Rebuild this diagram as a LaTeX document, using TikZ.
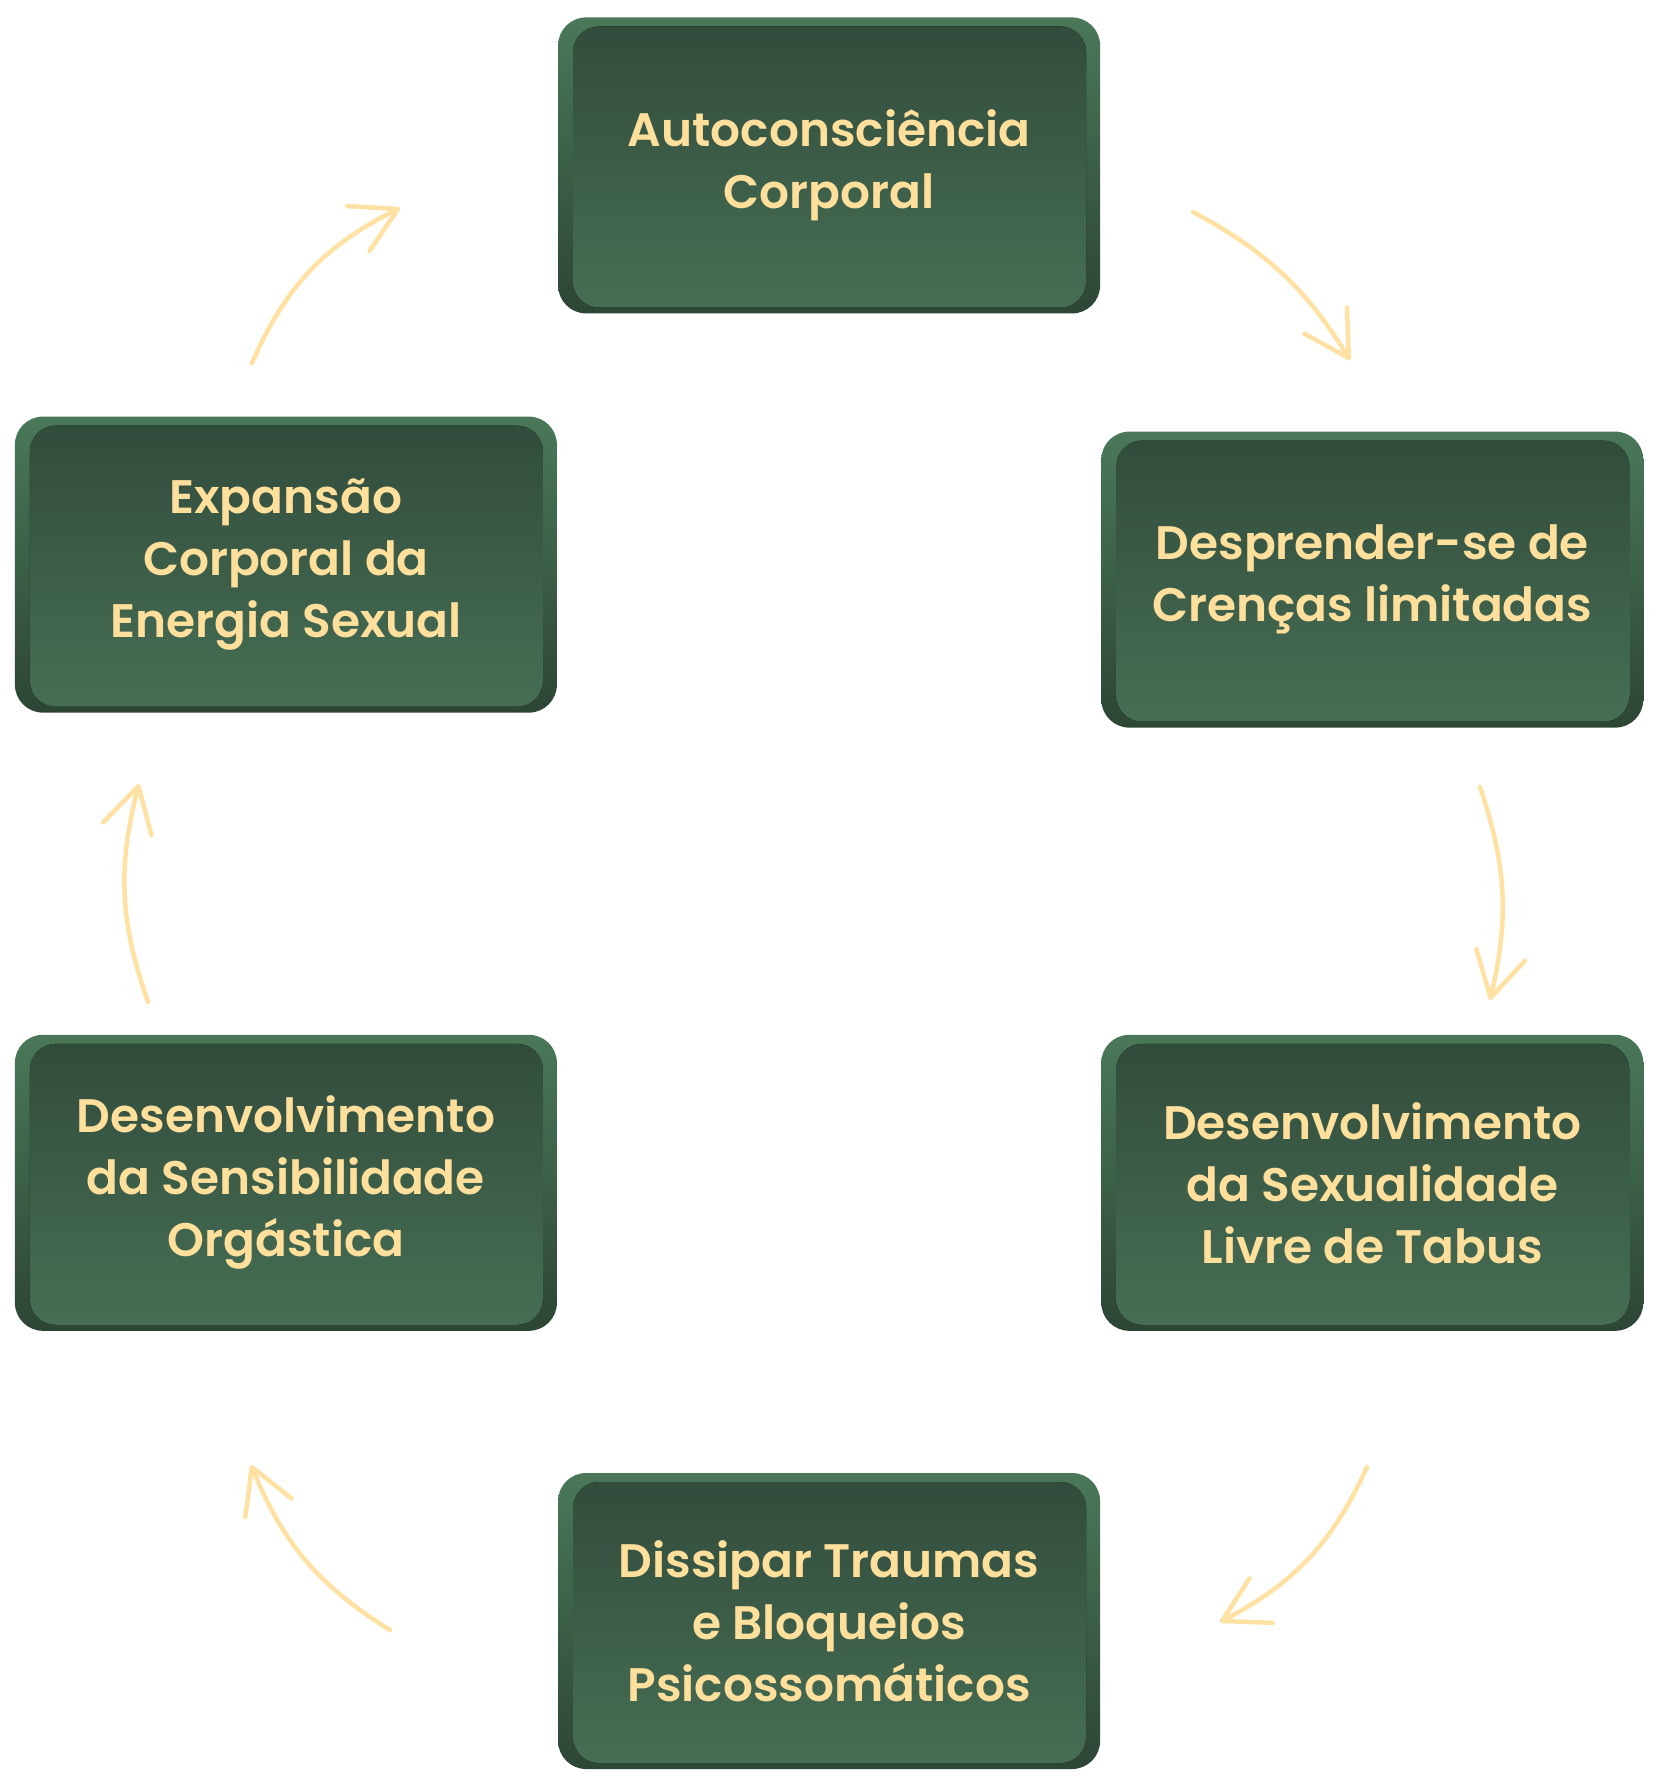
\documentclass[tikz,border=0pt]{standalone}
\usepackage{fontspec}
\usetikzlibrary{matrix,arrows.meta}
\newfontfamily\boxfont{Poppins}[UprightFont=* SemiBold]
\definecolor{outertop}{HTML}{4A7859}
\definecolor{outerbot}{HTML}{2D4535}
\definecolor{innertop}{HTML}{314B3B}
\definecolor{innerbot}{HTML}{476F55}
\definecolor{cream}{HTML}{FFDF9C}
\definecolor{sketch}{HTML}{FFE2A3}

\begin{document}
\begin{tikzpicture}[x=1pt, y=-1pt,
                    >={Straight Barb[length=44pt, width=50pt, round]},
                    block/.style={rounded corners=28pt, top color=outertop, bottom color=outerbot,
                                  minimum width=542pt, minimum height=296pt, inner sep=0pt,
                                  align=center, text=cream, font=\boxfont\fontsize{47}{62}\selectfont,
                                  path picture={\fill [rounded corners=26pt, top color=innertop, bottom color=innerbot]
                                    ([xshift=15pt, yshift=-9pt]path picture bounding box.north west) rectangle
                                    ([xshift=-14pt, yshift=6pt]path picture bounding box.south east);}},
                    ra/.style={->, draw=sketch, line width=4.5pt, line cap=round, bend left=17}]

\useasboundingbox (0,0) rectangle (1660,1787);

\matrix[anchor=north west, inner sep=0pt, column sep=1pt] at (14.5,17) {

& \node [block] (auto) {Autoconsciência\\Corporal}; & \\[103pt]

\node [block] (expan) {Expansão\\Corporal da\\Energia Sexual}; & &
\node [block, yshift=-15pt] (crenca) {Desprender-se de\\Crenças limitadas}; \\[307pt]

\node [block] (orgas) {Desenvolvimento\\da Sensibilidade\\Orgástica}; & &
\node [block] (tabus) {Desenvolvimento\\da Sexualidade\\Livre de Tabus}; \\[142pt]

& \node [block] (trauma) {Dissipar Traumas\\e Bloqueios\\Psicossomáticos}; & \\};

\coordinate (t1) at (1193,212);
\coordinate (h1) at (1350,360);
\coordinate (t2) at (1480,787);
\coordinate (h2) at (1490,1000);
\coordinate (t3) at (1367,1467);
\coordinate (h3) at (1220,1622);
\coordinate (t4) at (390,1630);
\coordinate (h4) at (251,1465);
\coordinate (t5) at (148,1002);
\coordinate (h5) at (139,784);
\coordinate (t6) at (252,363);
\coordinate (h6) at (400,208);

\draw [ra, bend left=15] (t1) to (h1);
\draw [ra, bend left=16] (t2) to (h2);
\draw [ra, bend left=19] (t3) to (h3);
\draw [ra, bend left=18] (t4) to (h4);
\draw [ra] (t5) to (h5);
\draw [ra, bend left=20] (t6) to (h6);
\end{tikzpicture}
\end{document}
